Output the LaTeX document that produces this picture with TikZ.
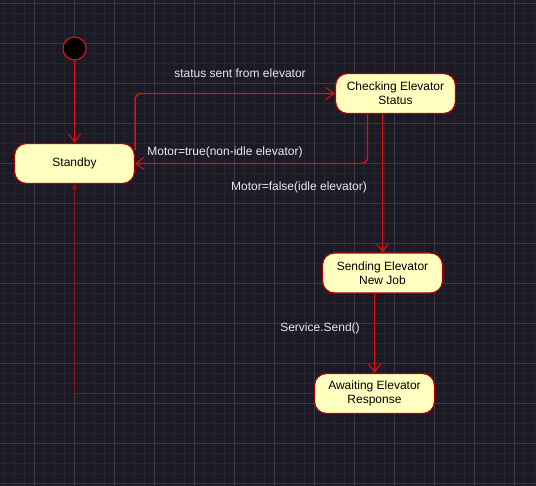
\documentclass[tikz,border=0pt]{standalone}
\usepackage{fontspec}
\setmainfont{Liberation Sans}
\usetikzlibrary{arrows.meta}
\definecolor{canvasbg}{HTML}{1C1A25}
\definecolor{gridmajor}{HTML}{3C3A47}
\definecolor{gridminor}{HTML}{26242F}
\definecolor{statefill}{HTML}{FFFFC0}
\definecolor{stateedge}{HTML}{B20000}
\definecolor{flowred}{HTML}{E01010}
\definecolor{backred}{HTML}{8E1414}
\definecolor{guardtext}{HTML}{E8E8EC}

\begin{document}
\begin{tikzpicture}[x=1pt,y=-1pt,
  state/.style={draw=stateedge,fill=statefill,line width=1.2pt,rounded corners=12pt,
    minimum width=120pt,minimum height=40pt,align=center,text=black,
    font=\fontsize{12pt}{14pt}\selectfont,inner sep=0pt},
  guard/.style={text=guardtext,font=\fontsize{12pt}{14pt}\selectfont,inner sep=0pt},
  flow/.style={draw=flowred,line width=1.3pt,-{Straight Barb[length=8pt,width=12pt,line width=1pt]}},
  backflow/.style={draw=backred,line width=1.3pt,-{Straight Barb[length=4pt,width=5pt,line width=1.3pt]}}]
% canvas and grid
\fill[canvasbg] (0,0) rectangle (536,486);
\useasboundingbox (0,0) rectangle (536,486);
\foreach \gx in {4.5,14.5,...,534.5} \draw[gridminor,line width=0.5pt] (\gx,0) -- (\gx,486);
\foreach \gy in {3,13,...,483} \draw[gridminor,line width=0.5pt] (0,\gy) -- (536,\gy);
\foreach \gx in {34.5,74.5,...,514.5} \draw[gridmajor,line width=0.6pt] (\gx,0) -- (\gx,486);
\foreach \gy in {3,43,...,483} \draw[gridmajor,line width=0.6pt] (0,\gy) -- (536,\gy);

% states
\node[circle,draw=flowred,fill=black,line width=1.2pt,minimum size=23pt,inner sep=0pt] (init) at (74.5,48.5) {};
\node[state] (standby) at (74.5,163.5) {Standby};
\node[state] (checking) at (395.5,93.5) {Checking Elevator\\Status};
\node[state] (sending) at (382.5,273) {Sending Elevator\\New Job};
\node[state] (awaiting) at (374.5,393.5) {Awaiting Elevator\\Response};

% transitions
\draw[flow] (init) -- (standby);
\draw[flow,rounded corners=6pt] ([yshift=13pt]standby.east) |- (checking.west);
\draw[flow,rounded corners=6pt] ([xshift=-28pt]checking.south) |- (standby.east);
\draw[flow] (sending.north |- checking.south) -- (sending.north);
\draw[flow] (sending.south -| awaiting.north) -- (awaiting.north);
\draw[backflow] (awaiting.west) -| (standby.south);

% guards
\node[guard] (gstatus) at (240,73) {status sent from elevator};
\node[guard] (gbusy) at (225,152) {Motor=true(non-idle elevator)};
\node[guard] (gidle) at (299,187) {Motor=false(idle elevator)};
\node[guard] (gsend) at (320,328) {Service.Send()};
\end{tikzpicture}
\end{document}
